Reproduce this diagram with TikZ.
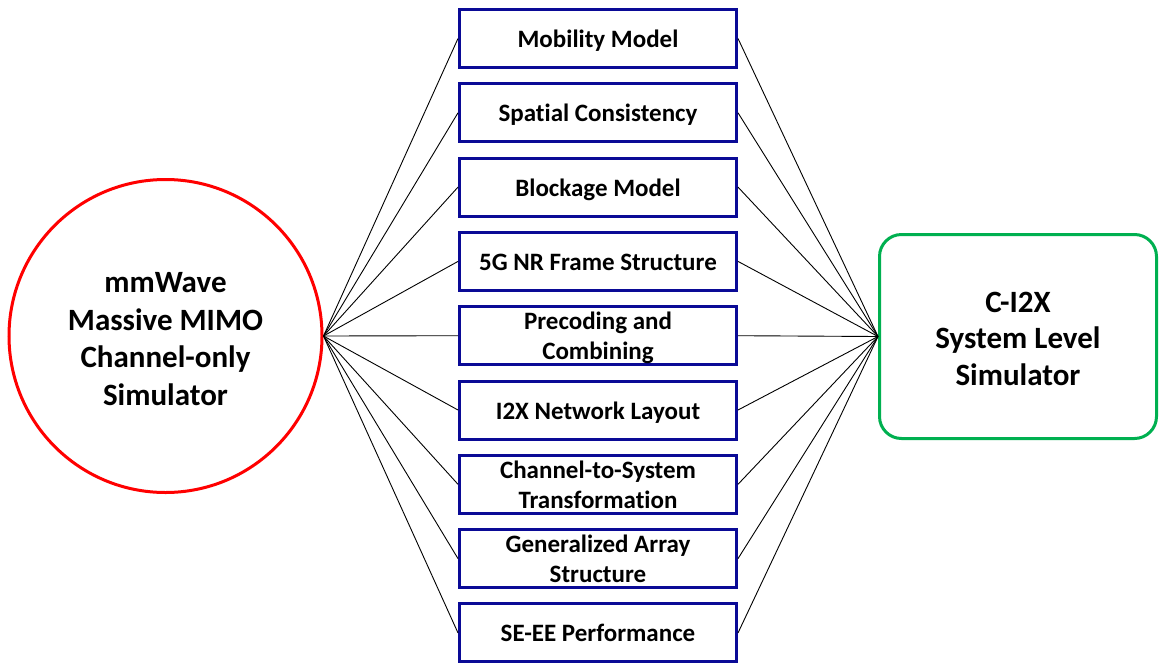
\documentclass[tikz,border=0pt]{standalone}
\usepackage{fontspec}
\setmainfont{Carlito}[Ligatures=NoCommon]
\definecolor{boxblue}{RGB}{10,10,150}
\definecolor{simred}{RGB}{255,0,0}
\definecolor{simgreen}{RGB}{0,176,80}
% centred stack of lines spaced by the current \baselineskip; a shorter depth
% moves it down by \textdrop inside its shape without enlarging the shape
\newcommand\textdrop{0pt}
\newcommand\stacked[1]{%
  \setbox\strutbox\hbox{\vrule height.7\baselineskip depth.3\baselineskip width0pt}%
  \raisebox{0pt}[\height][\dimexpr\depth-2\dimexpr\textdrop\relax\relax]{\begin{tabular}{@{}c@{}}#1\end{tabular}}}
\begin{document}
\begin{tikzpicture}[x=1pt,y=-1pt,
  feature/.style={draw=boxblue, line width=3pt, fill=white, minimum width=277pt, minimum height=58pt,
    inner sep=0pt, font=\fontsize{25}{30}\selectfont\bfseries\renewcommand\textdrop{3pt}},
  channel/.style={circle, draw=simred, line width=3pt, minimum size=313pt, inner sep=0pt,
    font=\fontsize{31}{37.7}\selectfont\bfseries\renewcommand\textdrop{5.5pt}},
  system/.style={draw=simgreen, line width=3pt, rounded corners=22pt, minimum width=277pt,
    minimum height=204pt, inner sep=0pt, font=\fontsize{31}{36.5}\selectfont\bfseries\renewcommand\textdrop{5pt}},
  link/.style={black, line width=0.9pt}]
\useasboundingbox (0,0) rectangle (1159,662);

\node[channel] (chan) at (165.5,336) {\stacked{mmWave\\Massive MIMO\\Channel-only\\Simulator}};
\node[system] (sys) at (1018,336.5) {\stacked{C-I2X\\System Level\\Simulator}};

\foreach \name/\txt [count=\i from 0] in {
  mob/Mobility Model,
  spat/Spatial Consistency,
  block/Blockage Model,
  frame/5G NR Frame Structure,
  prec/{Precoding and\\Combining},
  layout/I2X Network Layout,
  c2s/{Channel-to-System\\Transformation},
  array/{Generalized Array\\Structure},
  seee/SE-EE Performance}{
  \node[feature] (\name) at (598,38.5+74.3*\i) {\stacked{\txt}};
}

\foreach \name in {mob,spat,block,frame,prec,layout,c2s,array,seee}{
  \draw[link] (chan.east) -- (\name.west);
  \draw[link] (\name.east) -- (sys.west);
}
\end{tikzpicture}
\end{document}
